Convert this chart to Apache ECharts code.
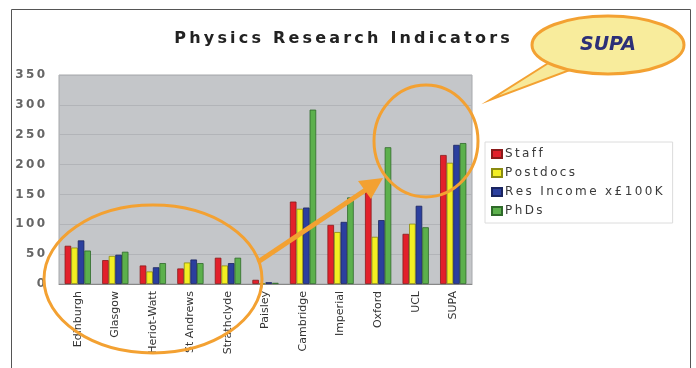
<!DOCTYPE html>
<html><head><meta charset="utf-8">
<script src="https://cdn.jsdelivr.net/npm/echarts@6/dist/echarts.min.js"></script>
<style>html,body{margin:0;padding:0;background:#fff}#c{width:696px;height:368px}</style>
</head><body><div id="c"></div>
<script>
var categories = ['Edinburgh','Glasgow','Heriot-Watt','St Andrews','Strathclyde','Paisley','Cambridge','Imperial','Oxford','UCL','SUPA'];
var staff    = [64, 40, 31, 26, 44, 7, 138, 99, 156, 84, 216];
var postdocs = [61, 47, 21, 36, 31, 1, 126, 87, 79, 101, 203];
var resIncome= [73, 49, 28, 41, 35, 3, 128, 104, 107, 131, 233];
var phds     = [56, 54, 35, 35, 44, 2, 292, 145, 229, 95, 236];
var seriesNames = ['Staff','Postdocs','Res Income x£100K','PhDs'];
var colors = ['#e2202b','#f2ee22','#2b3f9e','#5cb04c'];
var borders = ['#8a1a1a','#8a8a10','#1a2560','#2f6a2a'];

function spaced(s, sp){ return s.split('').join(sp); }
var chart = echarts.init(document.getElementById('c'));
var data = [staff, postdocs, resIncome, phds];
var orange = '#f3a132';
chart.setOption({
  animation:false,
  title:{ text: spaced('Physics Research Indicators','\u2009'), left: 337, top: 26, textAlign:'center',
    textStyle:{ fontFamily:'DejaVu Sans', fontWeight:'bold', fontSize:16, color:'#222'} },
  grid:{ left:59, right:224, top:75, bottom:84, show:true, backgroundColor:'#c4c6c9', borderColor:'#a6a8ab', borderWidth:1 },
  legend:{ orient:'vertical', left:485, top:142, width:172, itemWidth:10, itemHeight:8, itemGap:7,
    padding:[6,10,6,6], borderColor:'#dcdcdc', borderWidth:1, backgroundColor:'#fff',
    icon:'rect', textStyle:{ fontFamily:'DejaVu Sans', fontSize:12, color:'#3a3a3a', padding:[0,0,0,-2]},
    formatter:function(n){ return spaced(n,'\u2009'); } },
  xAxis:{ type:'category', data:categories,
    axisLine:{ lineStyle:{ color:'#888'} }, axisTick:{show:false},
    axisLabel:{ rotate:90, fontFamily:'DejaVu Sans', fontSize:11, color:'#333', margin:7, interval:0 } },
  yAxis:{ type:'value', min:0, max:350, interval:50,
    axisLine:{show:false}, axisTick:{show:false},
    splitLine:{ lineStyle:{ color:'#b2b4b8'} },
    axisLabel:{ fontFamily:'DejaVu Sans', fontWeight:'bold', fontSize:12, color:'#666', margin:14,
      formatter:function(v){ return spaced(String(v),'\u2009'); } } },
  series: seriesNames.map(function(n,i){ return { name:n, type:'bar', data:data[i], barGap:'0%', barCategoryGap:'30%',
      itemStyle:{ color:colors[i], borderColor:borders[i], borderWidth:0.8 } }; }),
  graphic:[
    { type:'rect', shape:{x:11.5,y:9.5,width:679,height:380}, style:{fill:'none', stroke:'#555', lineWidth:1}, silent:true },
    { type:'ellipse', shape:{cx:153, cy:279, rx:109, ry:74}, style:{fill:'none', stroke:orange, lineWidth:3}, z:100 },
    { type:'ellipse', shape:{cx:426, cy:141, rx:52, ry:56}, style:{fill:'none', stroke:orange, lineWidth:3}, z:100 },
    { type:'line', shape:{x1:258, y1:262, x2:370, y2:187}, style:{stroke:orange, lineWidth:5}, z:100 },
    { type:'polygon', shape:{points:[[383,178],[358,181],[371,199]]}, style:{fill:orange}, z:100 },
    { type:'polygon', shape:{points:[[550,62],[490,100],[570,70]]}, style:{fill:'#f7e99a', stroke:orange, lineWidth:2}, z:100 },
    { type:'ellipse', shape:{cx:608, cy:45, rx:76, ry:29}, style:{fill:'#f8ec9c', stroke:orange, lineWidth:3}, z:101 },
    { type:'text', x:608, y:45, style:{ text:'SUPA', fill:'#2c2f78', font:'italic bold 19px "DejaVu Sans"', align:'center', verticalAlign:'middle'}, z:102 }
  ]
});
</script></body></html>
